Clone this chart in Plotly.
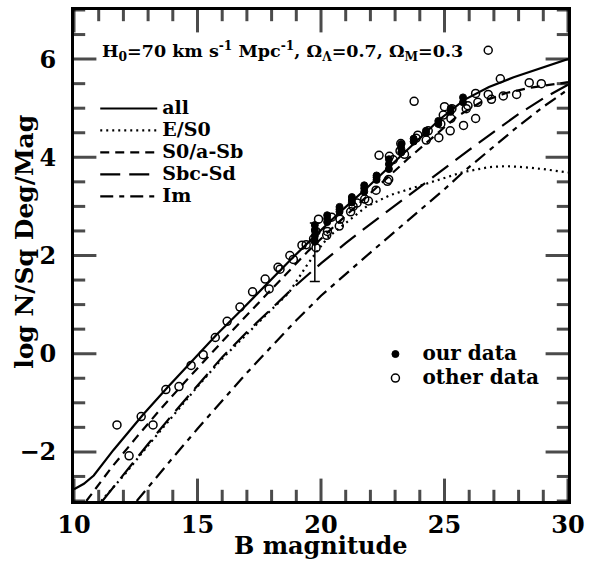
import plotly.graph_objects as go

# ---------------- model curves ----------------
all_B = [10.0, 10.4, 10.8, 11.2, 11.6, 12.2, 12.8, 13.8, 14.8, 15.8, 16.8, 17.8, 18.8, 19.8,
         20.8, 21.8, 22.8, 23.8, 24.8, 25.8, 26.8, 27.8, 28.8, 30.0]
all_y = [-2.76, -2.65, -2.48, -2.22, -1.96, -1.6, -1.24, -0.68, -0.14, 0.4, 0.9, 1.42, 1.93, 2.42,
         2.9, 3.35, 3.82, 4.3, 4.77, 5.17, 5.43, 5.63, 5.8, 6.0]

es0_B = [11.1, 12.0, 13.0, 14.0, 15.0, 16.0, 17.0, 18.0, 18.7, 19.0, 19.4, 19.83, 20.3, 20.9,
         21.85, 22.8, 24.1, 25.0, 25.76, 26.8, 27.5, 28.2, 29.0, 30.0]
es0_y = [-3.0, -2.49, -1.87, -1.26, -0.67, -0.1, 0.41, 0.9, 1.24, 1.47, 1.78, 2.08, 2.38, 2.62,
         3.0, 3.23, 3.43, 3.57, 3.70, 3.80, 3.82, 3.80, 3.76, 3.69]

sab_B = [10.5, 11.5, 12.5, 13.5, 14.5, 15.5, 16.5, 17.5, 18.5, 19.5, 20.5, 21.5, 22.5, 23.5,
         24.5, 25.5, 26.5, 27.5, 28.5, 29.5, 30.0]
sab_y = [-3.0, -2.33, -1.72, -1.13, -0.57, -0.02, 0.52, 1.05, 1.58, 2.1, 2.58, 3.05, 3.5, 3.96,
         4.4, 4.83, 5.13, 5.31, 5.42, 5.5, 5.53]

sbc_B = [11.15, 12.0, 13.0, 14.0, 15.0, 16.0, 17.0, 18.0, 19.0, 20.0, 21.0, 22.0, 23.0, 24.0,
         25.0, 26.0, 27.0, 28.0, 29.0, 30.0]
sbc_y = [-3.0, -2.46, -1.84, -1.23, -0.64, -0.07, 0.44, 0.93, 1.4, 1.84, 2.25, 2.64, 3.02, 3.4,
         3.78, 4.15, 4.52, 4.88, 5.2, 5.48]

im_B = [12.54, 13.0, 14.0, 15.0, 16.0, 17.0, 18.0, 19.0, 20.0, 21.0, 22.0, 23.0, 24.0, 25.0,
        25.76, 27.0, 28.0, 29.0, 30.0]
im_y = [-3.0, -2.72, -2.12, -1.53, -0.95, -0.39, 0.15, 0.68, 1.18, 1.63, 2.06, 2.49, 2.92, 3.35,
        3.70, 4.22, 4.64, 5.03, 5.38]

# ---------------- observed counts ----------------
our_B = [19.75, 19.75, 19.75, 19.75, 20.25, 20.25, 20.25, 20.75, 20.75, 20.75, 21.25, 21.25, 21.25,
         21.75, 21.75, 21.75, 22.25, 22.25, 22.25, 22.75, 22.75, 22.75, 23.25, 23.25, 23.25,
         23.75, 23.75, 24.25, 24.25, 24.75, 24.75, 25.25, 25.25, 25.75, 25.75]
our_y = [2.28, 2.4, 2.52, 2.62, 2.68, 2.75, 2.82, 2.89, 2.94, 2.99, 3.08, 3.13, 3.19,
         3.3, 3.37, 3.43, 3.54, 3.59, 3.63, 3.76, 3.86, 3.96, 4.1, 4.18, 4.27,
         4.32, 4.38, 4.5, 4.54, 4.68, 4.74, 4.93, 4.99, 5.12, 5.22]

oth_B = [11.74, 12.23, 12.72, 13.2, 13.72, 14.25, 14.74, 15.23, 15.72, 16.2, 16.72, 17.23, 17.74,
         17.9, 18.26, 18.34, 18.74, 18.88, 19.23, 19.4, 19.7, 19.8, 19.9, 19.8, 20.23, 20.26,
         20.43, 20.74, 20.77, 21.2, 21.3, 21.46, 21.77, 21.92, 22.23, 22.35, 22.69, 22.74, 22.77,
         22.92, 23.2, 23.23, 23.38, 23.77, 23.85, 23.92, 24.26, 24.34, 24.77, 24.85, 24.95,
         25.0, 25.23, 25.26, 25.3, 25.77, 25.88, 25.95, 26.26, 26.26, 26.35, 26.77, 26.77,
         26.9, 27.26, 27.38, 27.92, 28.43, 28.92]
oth_y = [-1.45, -2.08, -1.28, -1.45, -0.73, -0.67, -0.24, -0.02, 0.33, 0.66, 0.95, 1.26, 1.52,
         1.32, 1.76, 1.72, 2.0, 1.92, 2.21, 2.22, 2.34, 2.49, 2.74, 2.16, 2.41, 2.49,
         2.78, 2.6, 2.74, 2.89, 3.0, 3.07, 3.15, 3.11, 3.33, 4.04, 3.51, 3.55, 4.02,
         3.95, 4.13, 4.28, 4.06, 5.14, 4.39, 4.45, 4.35, 4.54, 4.4, 4.68, 4.86,
         5.03, 4.54, 4.79, 4.99, 4.65, 4.99, 5.05, 4.79, 5.3, 5.12, 6.18, 5.28,
         5.18, 5.6, 5.25, 5.28, 5.52, 5.5]

err_B = [19.75]
err_y = [2.1]
err_up = [0.56]
err_dn = [0.63]

x_range = [10, 30]
y_range = [-3, 7]
x_major, x_minor = 5, 1
y_major, y_minor = 2, 0.5

FONT = "DejaVu Serif"
MAJ_PX, MIN_PX = 16, 8   # tick lengths (inside the frame) in px

fig = go.Figure()


def lname(s, px):
    return '<span style="font-size:%dpx">%s</span>' % (px, s)


def frange(a, b, step):
    n = int(round((b - a) / step))
    return [a + i * step for i in range(n + 1)]


def is_major(v, step):
    return abs(v / step - round(v / step)) < 1e-6


# ---- tick marks on all four sides: line-shaped markers centred on the frame,
#      the outer half clipped away by the plot area ----
xt = frange(x_range[0], x_range[1], x_minor)
yt = frange(y_range[0], y_range[1], y_minor)
for edge_y in y_range:
    fig.add_trace(go.Scatter(
        x=xt, y=[edge_y] * len(xt), mode="markers", showlegend=False, hoverinfo="skip",
        cliponaxis=True,
        marker=dict(symbol="line-ns", size=[2 * (MAJ_PX if is_major(v, x_major) else MIN_PX) for v in xt],
                    color="black", line=dict(color="black", width=3))))
for edge_x in x_range:
    fig.add_trace(go.Scatter(
        x=[edge_x] * len(yt), y=yt, mode="markers", showlegend=False, hoverinfo="skip",
        cliponaxis=True,
        marker=dict(symbol="line-ew", size=[2 * (MAJ_PX if is_major(v, y_major) else MIN_PX) for v in yt],
                    color="black", line=dict(color="black", width=3))))

line_w = 2.2
fig.add_trace(go.Scatter(x=all_B, y=all_y, mode="lines", name=lname("all", 19),
                         line=dict(color="black", width=line_w), legend="legend"))
fig.add_trace(go.Scatter(x=es0_B, y=es0_y, mode="lines", name=lname("E/S0", 19),
                         line=dict(color="black", width=line_w, dash="2px,4px"), legend="legend"))
fig.add_trace(go.Scatter(x=sab_B, y=sab_y, mode="lines", name=lname("S0/a-Sb", 19),
                         line=dict(color="black", width=line_w, dash="9px,6px"), legend="legend"))
fig.add_trace(go.Scatter(x=sbc_B, y=sbc_y, mode="lines", name=lname("Sbc-Sd", 19),
                         line=dict(color="black", width=line_w, dash="20px,9px"), legend="legend"))
fig.add_trace(go.Scatter(x=im_B, y=im_y, mode="lines", name=lname("Im", 19),
                         line=dict(color="black", width=line_w, dash="13px,6px,5px,6px"), legend="legend"))

fig.add_trace(go.Scatter(x=err_B, y=err_y, mode="markers", showlegend=False,
                         marker=dict(size=1, color="rgba(0,0,0,0)"),
                         error_y=dict(type="data", symmetric=False, array=err_up, arrayminus=err_dn,
                                      color="black", thickness=1.5, width=5)))

fig.add_trace(go.Scatter(x=our_B, y=our_y, mode="markers", name=lname("our data", 20),
                         marker=dict(size=7, color="black", line=dict(color="black", width=1)),
                         legend="legend2"))
fig.add_trace(go.Scatter(x=oth_B, y=oth_y, mode="markers", name=lname("other data", 20),
                         marker=dict(size=8, color="black", symbol="circle-open",
                                     line=dict(color="black", width=1.5)),
                         legend="legend2"))

tfont = dict(family=FONT, size=24, color="black", weight="bold")
base = dict(showgrid=False, zeroline=False, showline=True, linecolor="black", linewidth=3,
            mirror=True, ticks="", tickmode="linear", tick0=0, tickfont=tfont, layer="above traces")
fig.update_layout(
    xaxis=dict(range=x_range, dtick=x_major, ticklabelstandoff=0, **base),
    yaxis=dict(range=y_range, dtick=y_major, ticklabelstandoff=10, **base),
)

fig.add_annotation(xref="paper", yref="paper", x=0.5, y=-0.091, xanchor="center", yanchor="middle",
                   text="B magnitude", showarrow=False,
                   font=dict(family=FONT, size=24, color="black", weight="bold"))
fig.add_annotation(xref="paper", yref="paper", x=-0.099, y=0.528, xanchor="center", yanchor="middle",
                   text="log N/Sq Deg/Mag", textangle=-90, showarrow=False,
                   font=dict(family=FONT, size=25, color="black", weight="bold"))
fig.add_annotation(xref="paper", yref="paper", x=0.0526, y=0.917, xanchor="left", yanchor="middle",
                   text="H<sub>0</sub>=70 km s<sup>-1</sup> Mpc<sup>-1</sup>, \u03a9<sub>\u039b</sub>=0.7, \u03a9<sub>M</sub>=0.3",
                   showarrow=False, font=dict(family=FONT, size=17.5, color="black", weight="bold"))

fig.update_layout(
    width=594, height=565,
    margin=dict(l=74, r=26, t=7, b=64),
    plot_bgcolor="white", paper_bgcolor="white",
    legend=dict(x=0.043, y=0.832, xanchor="left", yanchor="top", bgcolor="rgba(0,0,0,0)",
                font=dict(family=FONT, size=14.6, color="black", weight="bold"),
                tracegroupgap=0, itemwidth=57),
    legend2=dict(x=0.596, y=0.334, xanchor="left", yanchor="top", bgcolor="rgba(0,0,0,0)",
                 font=dict(family=FONT, size=16.2, color="black", weight="bold"),
                 tracegroupgap=0, itemwidth=44),
)

fig.write_html("out.html", config={"displayModeBar": False},
               post_script="document.body.style.margin='0px';")
